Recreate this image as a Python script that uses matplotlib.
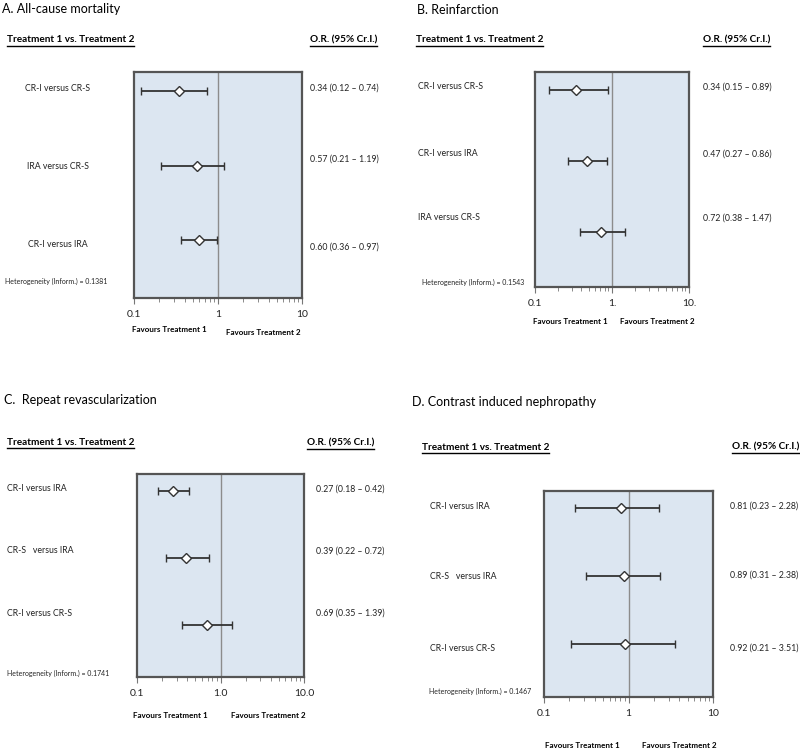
import matplotlib
matplotlib.use("Agg")
import matplotlib.pyplot as plt
import matplotlib.transforms as mtransforms
from matplotlib.lines import Line2D

plt.rcParams['font.family'] = ['Lato', 'DejaVu Sans']

# donnees
titles = ["A. All-cause mortality", "B. Reinfarction",
          "C.  Repeat revascularization", "D. Contrast induced nephropathy"]
labels_a = ["CR-I versus CR-S", "IRA versus CR-S", "CR-I versus IRA"]
or_a = [0.34, 0.57, 0.60]
lo_a = [0.12, 0.21, 0.36]
hi_a = [0.74, 1.19, 0.97]
labels_b = ["CR-I versus CR-S", "CR-I versus IRA", "IRA versus CR-S"]
or_b = [0.34, 0.47, 0.72]
lo_b = [0.15, 0.27, 0.38]
hi_b = [0.89, 0.86, 1.47]
labels_c = ["CR-I versus IRA", "CR-S   versus IRA", "CR-I versus CR-S"]
or_c = [0.27, 0.39, 0.69]
lo_c = [0.18, 0.22, 0.35]
hi_c = [0.42, 0.72, 1.39]
labels_d = ["CR-I versus IRA", "CR-S   versus IRA", "CR-I versus CR-S"]
or_d = [0.81, 0.89, 0.92]
lo_d = [0.23, 0.31, 0.21]
hi_d = [2.28, 2.38, 3.51]
heterogeneity = [0.1381, 0.1543, 0.1741, 0.1467]
tick_labels = [["0.1", "1", "10"], ["0.1", "1.", "10."],
               ["0.1", "1.0", "10.0"], ["0.1", "1", "10"]]

W, H = 800, 752
fig = plt.figure(figsize=(8, 7.52), dpi=100)

def fx(px):
    return px / W

def fy(py):
    return 1 - py / H

# mise en page (pixels) de chaque panneau
panels = [
    dict(data=(labels_a, or_a, lo_a, hi_a), box=(134, 72, 302, 298), title=(2, 9),
         head=(7, 40, 310), lab_x=58, lab_ha="center", or_x=310,
         lab_rows=[-0.03, 1.01, 2.05], or_rows=[-0.03, 0.91, 2.09],
         het=(5, 2.55), fav=(169, 330, 263, 333)),
    dict(data=(labels_b, or_b, lo_b, hi_b), box=(535, 72, 689, 287), title=(417, 10),
         head=(416, 40, 703), lab_x=418, lab_ha="left", or_x=703,
         lab_rows=[-0.04, 0.90, 1.80], or_rows=[-0.04, 0.90, 1.80],
         het=(422, 2.70), fav=(570, 322, 657, 322)),
    dict(data=(labels_c, or_c, lo_c, hi_c), box=(137, 474, 304, 677), title=(4, 400),
         head=(7, 443, 307), lab_x=7, lab_ha="left", or_x=316,
         lab_rows=[-0.03, 0.89, 1.82], or_rows=[-0.03, 0.89, 1.82],
         het=(7, 2.71), fav=(170, 716, 268, 716)),
    dict(data=(labels_d, or_d, lo_d, hi_d), box=(544, 491, 713, 697), title=(412, 402),
         head=(422, 447, 732), lab_x=430, lab_ha="left", or_x=730,
         lab_rows=[-0.03, 1.0, 2.06], or_rows=[-0.03, 0.98, 2.06],
         het=(429, 2.69), fav=(582, 746, 679, 746)),
]

headers = []
for i, p in enumerate(panels):
    labels, ors, los, his = p["data"]
    x0, y0, x1, y1 = p["box"]
    ax = fig.add_axes([fx(x0), fy(y1), (x1 - x0) / W, (y1 - y0) / H])
    ax.set_facecolor("#dce6f1")
    ax.set_xscale("log")
    ax.set_xlim(0.1, 10)
    ax.set_ylim(2.77, -0.25)
    for s in ax.spines.values():
        s.set_color("#555555")
        s.set_linewidth(1.6)
    ax.axvline(1, color="#8c8c8c", lw=1)
    rows = list(range(len(ors)))
    xerr = [[o - l for o, l in zip(ors, los)], [h - o for o, h in zip(ors, his)]]
    ax.errorbar(ors, rows, xerr=xerr, fmt="D", ms=5, mfc="white", mec="#333333",
                mew=1, ecolor="#333333", elinewidth=1.3, capsize=3, capthick=1.2)
    ax.set_yticks([])
    ax.set_xticks([0.1, 1, 10])
    ax.set_xticklabels(tick_labels[i], fontsize=7.5, color="#222222")
    ax.tick_params(axis="x", which="both", direction="out", color="#777777", pad=5)
    ax.tick_params(axis="x", which="major", length=4)
    ax.tick_params(axis="x", which="minor", length=3)

    tr = mtransforms.blended_transform_factory(fig.transFigure, ax.transData)
    for lab, r in zip(labels, p["lab_rows"]):
        fig.text(fx(p["lab_x"]), r, lab, transform=tr, fontsize=6.3,
                 ha=p["lab_ha"], va="center", color="#222222")
    for o, l, h, r in zip(ors, los, his, p["or_rows"]):
        fig.text(fx(p["or_x"]), r, f"{o:.2f} ({l:.2f} \u2013 {h:.2f})", transform=tr,
                 fontsize=6.3, ha="left", va="center", color="#222222")
    hx, hr = p["het"]
    fig.text(fx(hx), hr, f"Heterogeneity (Inform.) = {heterogeneity[i]}", transform=tr,
             fontsize=5, ha="left", va="center", color="#222222")

    tx, ty = p["title"]
    fig.text(fx(tx), fy(ty), titles[i], fontsize=9, ha="left", va="center")
    hx0, hy, hx1 = p["head"]
    headers.append(fig.text(fx(hx0), fy(hy), "Treatment 1 vs. Treatment 2",
                            fontsize=7.2, weight="bold", ha="left", va="center"))
    headers.append(fig.text(fx(hx1), fy(hy), "O.R. (95% Cr.I.)",
                            fontsize=7.2, weight="bold", ha="left", va="center"))
    f1x, f1y, f2x, f2y = p["fav"]
    fig.text(fx(f1x), fy(f1y), "Favours Treatment 1", fontsize=5.8, weight="bold",
             ha="center", va="center")
    fig.text(fx(f2x), fy(f2y), "Favours Treatment 2", fontsize=5.8, weight="bold",
             ha="center", va="center")

# soulignement des en-tetes
fig.canvas.draw()
r = fig.canvas.get_renderer()
for t in headers:
    bb = t.get_window_extent(r)
    yy = bb.y0 - 1
    fig.add_artist(Line2D([bb.x0 / W, min(bb.x1, W - 1) / W], [yy / H, yy / H],
                          transform=fig.transFigure, color="black", lw=1))

fig.savefig("out.png", dpi=100)
